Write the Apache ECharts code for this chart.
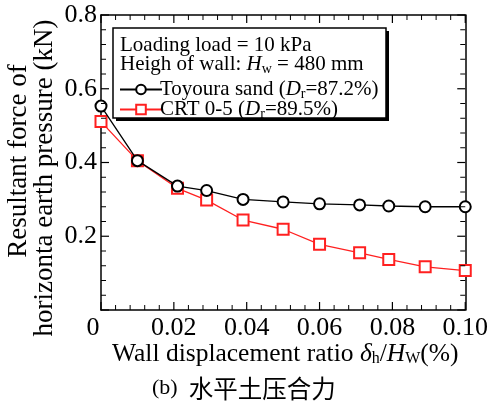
<!DOCTYPE html>
<html>
<head>
<meta charset="utf-8">
<script src="https://cdn.jsdelivr.net/npm/echarts@6/dist/echarts.min.js"></script>
<style>
  html, body { margin: 0; padding: 0; background: #fff; }
  #chart { width: 491px; height: 403px; }
</style>
</head>
<body>
<div id="chart"></div>
<script>
// Wall displacement ratio δh/Hw (%)
const displacement = [0, 0.01, 0.021, 0.029, 0.039, 0.05, 0.06, 0.071, 0.079, 0.089, 0.1];
// Resultant force of horizontal earth pressure (kN)
const toyouraSand = [0.553, 0.405, 0.336, 0.324, 0.300, 0.293, 0.288, 0.285, 0.282, 0.280, 0.280];
const crt05 = [0.511, 0.405, 0.330, 0.298, 0.244, 0.219, 0.178, 0.155, 0.137, 0.117, 0.107];
const seriesNames = ['Toyoura sand', 'CRT 0-5'];
const relDensity = { 'Toyoura sand': '87.2%', 'CRT 0-5': '89.5%' };

// Axis ranges and tick spacing
const X_MIN = 0, X_MAX = 0.1, X_STEP = 0.02;
const Y_MIN = 0, Y_MAX = 0.8, Y_STEP = 0.2;
const MINOR_SPLIT = 5;

const SERIF = '"Liberation Serif", "DejaVu Serif", serif';
const CJK = '"Noto Sans CJK SC", sans-serif';

const pairs = ys => displacement.map((x, i) => [x, ys[i]]);

const legendRich = {
  i: { fontFamily: SERIF, fontStyle: 'italic', fontSize: 21, color: '#000', lineHeight: 20 },
  sub: { fontFamily: SERIF, fontSize: 14, color: '#000', lineHeight: 20, padding: [9, 0, 0, 0] }
};

function frameAxis(pos, min, max, interval, labelOpts) {
  return {
    type: 'value',
    position: pos,
    min: min, max: max, interval: interval,
    axisLine: { show: true, onZero: false, lineStyle: { color: '#000', width: 1.5 } },
    axisTick: { show: false },
    minorTick: { show: false },
    splitLine: { show: false },
    axisLabel: labelOpts || { show: false }
  };
}

const staticGraphics = [
  // legend frame with drop shadow
  { type: 'rect', z: 15, shape: { x: 116, y: 31, width: 273, height: 90 }, style: { fill: '#000' } },
  { type: 'rect', z: 16, shape: { x: 113, y: 28, width: 273, height: 90 },
    style: { fill: '#fff', stroke: '#000', lineWidth: 1.5 } },
  { type: 'text', z: 21, left: 120, top: 35,
    style: { text: 'Loading load = 10 kPa', font: '21px ' + SERIF, fill: '#000' } },
  { type: 'text', z: 21, left: 120, top: 53,
    style: { text: 'Heigh of wall: {i|H}{sub|w} = 480 mm', font: '21px ' + SERIF, fill: '#000',
      rich: legendRich } },
  // y-axis title, two rotated lines
  { type: 'text', x: 19, y: 161, rotation: Math.PI / 2,
    style: { text: 'Resultant force of', font: '27px ' + SERIF, fill: '#000',
      align: 'center', verticalAlign: 'middle' } },
  { type: 'text', x: 45, y: 178, rotation: Math.PI / 2,
    style: { text: 'horizonta earth pressure (kN)', font: '27px ' + SERIF, fill: '#000',
      align: 'center', verticalAlign: 'middle' } },
  // x-axis title
  { type: 'text', left: 112, top: 341,
    style: { text: 'Wall displacement ratio {di|δ}{s|h}/{hi|H}{s|W}(%)', font: '25.5px ' + SERIF, fill: '#000',
      rich: {
        di: { fontFamily: SERIF, fontStyle: 'italic', fontSize: 25.5, color: '#000' },
        hi: { fontFamily: SERIF, fontStyle: 'italic', fontSize: 25.5, color: '#000' },
        s: { fontFamily: SERIF, fontSize: 16, color: '#000', padding: [10, 0, 0, 0] }
      } } },
  // caption
  { type: 'text', left: 152, top: 376,
    style: { text: '(b)  {c|水平土压合力}', font: '22px ' + SERIF, fill: '#000',
      rich: { c: { fontFamily: CJK, fontSize: 24.5, color: '#000' } } } }
];

const chart = echarts.init(document.getElementById('chart'));

chart.setOption({
  backgroundColor: '#fff',
  animation: false,
  grid: { left: 101, right: 23, top: 15, bottom: 93 },
  xAxis: [
    frameAxis('bottom', X_MIN, X_MAX, X_STEP, {
      show: true, margin: 5, color: '#000', fontFamily: SERIF, fontSize: 26,
      formatter: v => v === 0 ? '{z|0}' : v.toFixed(2),
      rich: { z: { fontFamily: SERIF, fontSize: 26, color: '#000', padding: [0, 16, 0, 0] } }
    }),
    frameAxis('top', X_MIN, X_MAX, X_STEP)
  ],
  yAxis: [
    frameAxis('left', Y_MIN, Y_MAX, Y_STEP, {
      show: true, margin: 4, color: '#000', fontFamily: SERIF, fontSize: 26,
      formatter: v => v === 0 ? '' : v.toFixed(1)
    }),
    frameAxis('right', Y_MIN, Y_MAX, Y_STEP)
  ],
  legend: {
    orient: 'vertical',
    left: 114, top: 73, z: 20,
    itemWidth: 42, itemHeight: 12, itemGap: -3,
    data: seriesNames,
    textStyle: { fontFamily: SERIF, fontSize: 21, color: '#000', lineHeight: 20,
      padding: [0, 0, 0, -7], rich: legendRich },
    formatter: name => name + ' ({i|D}{sub|r}=' + relDensity[name] + ')'
  },
  graphic: staticGraphics,
  series: [
    {
      name: seriesNames[0], type: 'line', data: pairs(toyouraSand), clip: false, z: 3,
      symbol: 'emptyCircle', symbolSize: 11,
      lineStyle: { color: '#000', width: 1.3 },
      itemStyle: { color: '#000', borderColor: '#000', borderWidth: 1.4 }
    },
    {
      name: seriesNames[1], type: 'line', data: pairs(crt05), clip: false, z: 2,
      symbol: 'emptyRect', symbolSize: 11,
      lineStyle: { color: '#ff2020', width: 1.3 },
      itemStyle: { color: '#ff2020', borderColor: '#ff2020', borderWidth: 1.4 }
    }
  ]
});

// Inward major/minor ticks on all four sides of the frame, positioned with the grid's own scales
const toPx = (x, y) => chart.convertToPixel({ gridIndex: 0 }, [x, y]);
const tickLines = [];
function addTicks(min, max, step, isX) {
  const n = Math.round((max - min) / step) * MINOR_SPLIT;
  for (let k = 0; k <= n; k++) {
    const v = min + k * step / MINOR_SPLIT;
    const major = k % MINOR_SPLIT === 0;
    const len = major ? 8 : 5;
    const style = { stroke: '#000', lineWidth: major ? 1.2 : 1 };
    if (isX) {
      const b = toPx(v, Y_MIN), t = toPx(v, Y_MAX);
      tickLines.push({ type: 'line', z: 12, shape: { x1: b[0], y1: b[1], x2: b[0], y2: b[1] - len }, style: style });
      tickLines.push({ type: 'line', z: 12, shape: { x1: t[0], y1: t[1], x2: t[0], y2: t[1] + len }, style: style });
    } else {
      const l = toPx(X_MIN, v), r = toPx(X_MAX, v);
      tickLines.push({ type: 'line', z: 12, shape: { x1: l[0], y1: l[1], x2: l[0] + len, y2: l[1] }, style: style });
      tickLines.push({ type: 'line', z: 12, shape: { x1: r[0], y1: r[1], x2: r[0] - len, y2: r[1] }, style: style });
    }
  }
}
addTicks(X_MIN, X_MAX, X_STEP, true);
addTicks(Y_MIN, Y_MAX, Y_STEP, false);
chart.setOption({ graphic: staticGraphics.concat(tickLines) });
</script>
</body>
</html>
